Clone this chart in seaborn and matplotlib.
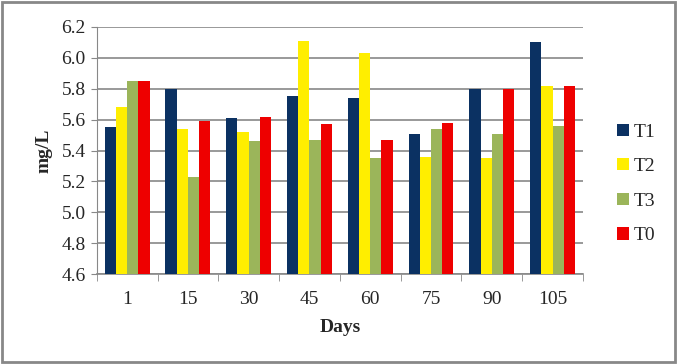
import pandas as pd
import numpy as np
import matplotlib.pyplot as plt
import seaborn as sns
from matplotlib.patches import Rectangle

days = ['1', '15', '30', '45', '60', '75', '90', '105']
t1 = [5.55, 5.80, 5.61, 5.75, 5.74, 5.51, 5.80, 6.10]
t2 = [5.68, 5.54, 5.52, 6.11, 6.03, 5.36, 5.35, 5.82]
t3 = [5.85, 5.23, 5.46, 5.47, 5.35, 5.54, 5.51, 5.56]
t0 = [5.85, 5.59, 5.62, 5.57, 5.47, 5.58, 5.80, 5.82]
groups = ['T1', 'T2', 'T3', 'T0']
colors = ['#0b3162', '#ffee00', '#9bb55a', '#ee0000']

df = pd.DataFrame({'Days': days, 'T1': t1, 'T2': t2, 'T3': t3, 'T0': t0})
df = df.melt(id_vars='Days', var_name='group', value_name='mgL')

sns.set_style('white')
plt.rcParams['font.family'] = ['Liberation Serif', 'DejaVu Serif']

fig = plt.figure(figsize=(6.77, 3.64), dpi=100)
ax = fig.add_axes([0.143, 0.247, 0.718, 0.679])

sns.barplot(data=df, x='Days', y='mgL', hue='group', hue_order=groups,
            palette=colors, width=0.74, saturation=1, linewidth=0,
            ax=ax, zorder=3)

ax.set_ylim(4.6, 6.2)
ax.set_yticks(np.arange(4.6, 6.21, 0.2))
ax.set_yticklabels([f'{v:.1f}' for v in np.arange(4.6, 6.21, 0.2)], fontsize=14)
ax.set_xlim(-0.5, len(days) - 0.5)
ax.tick_params(axis='x', labelsize=14, length=0, pad=12)
ax.tick_params(axis='y', left=True, length=4, color='#888888', pad=4)
# category boundary ticks like the original
ax.set_xticks(np.arange(-0.5, len(days), 1), minor=True)
ax.tick_params(axis='x', which='minor', bottom=True, length=5, color='#888888')
ax.yaxis.grid(True, color='#888888', linewidth=1.2, zorder=0)
for s in ['top', 'right']:
    ax.spines[s].set_visible(False)
ax.spines['left'].set_color('#888888')
ax.spines['bottom'].set_color('#888888')
ax.spines['bottom'].set_linewidth(1.2)

ax.set_xlabel('Days', fontsize=14, fontweight='bold', labelpad=8)
ax.set_ylabel('mg/L', fontsize=14, fontweight='bold', labelpad=6)

ax.legend(loc='center left', bbox_to_anchor=(1.035, 0.365), frameon=False,
          fontsize=14, handlelength=0.6, handleheight=0.6, handletextpad=0.25,
          labelspacing=0.9)

fig.patches.append(Rectangle((0.003, 0.005), 0.994, 0.99, transform=fig.transFigure,
                             fill=False, edgecolor='#888888', linewidth=2))

fig.savefig('out.png', dpi=100)
